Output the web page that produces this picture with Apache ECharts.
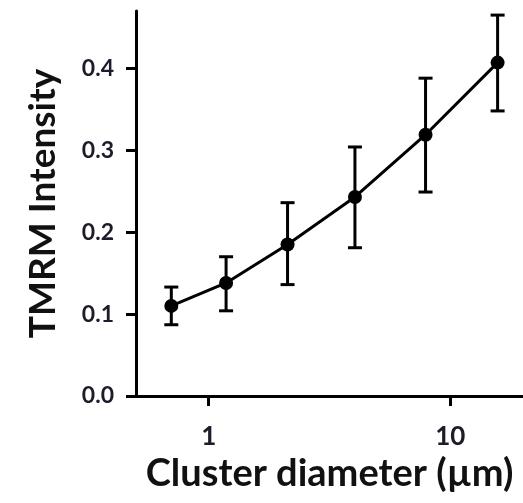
<!DOCTYPE html>
<html>
<head>
<meta charset="utf-8">
<script src="https://cdn.jsdelivr.net/npm/echarts@6/dist/echarts.min.js"></script>
<style>
html,body{margin:0;padding:0;background:#fff;}
#chart{width:523px;height:503px;}
</style>
</head>
<body>
<div id="chart"></div>
<script>
// Data
var diameters = [0.70, 1.18, 2.12, 4.03, 7.9, 15.7];
var intensity = [0.110, 0.138, 0.185, 0.243, 0.319, 0.407];
var errUpper  = [0.133, 0.170, 0.236, 0.304, 0.388, 0.465];
var errLower  = [0.087, 0.104, 0.136, 0.181, 0.249, 0.348];
var xTickValues = [1, 10];
var yTickValues = [0, 0.1, 0.2, 0.3, 0.4];

var chart = echarts.init(document.getElementById('chart'), null, {renderer: 'canvas'});

var lineData = diameters.map(function (d, i) { return [d, intensity[i]]; });
var errData = diameters.map(function (d, i) { return [d, errLower[i], errUpper[i]]; });

var labelColor = '#1c1c2a';

chart.setOption({
  animation: false,
  backgroundColor: '#fff',
  grid: {left: 136, right: 0, top: 11, bottom: 107},
  xAxis: {
    type: 'log',
    logBase: 10,
    min: 0.5,
    max: 20,
    name: 'Cluster diameter (\u00b5m)',
    nameLocation: 'middle',
    nameGap: 56,
    nameTextStyle: {fontFamily: 'Lato', fontWeight: 'bold', fontSize: 38, color: '#111'},
    axisLine: {show: true, lineStyle: {color: '#000', width: 3}},
    axisTick: {show: true, length: 10, lineStyle: {color: '#000', width: 3}, customValues: xTickValues},
    axisLabel: {show: true, margin: 28, fontFamily: 'Lato', fontWeight: 'bold', fontSize: 26, color: labelColor, customValues: xTickValues,
      formatter: function (v) { return String(v); }},
    splitLine: {show: false},
    minorTick: {show: false}
  },
  yAxis: {
    type: 'value',
    min: 0,
    max: 0.47,
    name: 'TMRM Intensity',
    nameLocation: 'middle',
    nameGap: 74,
    nameTextStyle: {fontFamily: 'Lato', fontWeight: 'bold', fontSize: 37, color: '#111'},
    axisLine: {show: true, lineStyle: {color: '#000', width: 3}},
    axisTick: {show: true, length: 10, lineStyle: {color: '#000', width: 3}, customValues: yTickValues},
    axisLabel: {show: true, margin: 22, fontFamily: 'Lato', fontWeight: 'bold', fontSize: 23, color: labelColor, customValues: yTickValues,
      formatter: function (v) { return v.toFixed(1); }},
    splitLine: {show: false}
  },
  series: [
    {
      type: 'custom',
      data: errData,
      z: 3,
      renderItem: function (params, api) {
        var x = api.value(0);
        var lo = api.coord([x, api.value(1)]);
        var hi = api.coord([x, api.value(2)]);
        var cap = 7;
        var style = {stroke: '#000', lineWidth: 3, fill: null};
        return {
          type: 'group',
          children: [
            {type: 'line', shape: {x1: hi[0], y1: hi[1], x2: lo[0], y2: lo[1]}, style: style},
            {type: 'line', shape: {x1: hi[0] - cap, y1: hi[1], x2: hi[0] + cap, y2: hi[1]}, style: style},
            {type: 'line', shape: {x1: lo[0] - cap, y1: lo[1], x2: lo[0] + cap, y2: lo[1]}, style: style}
          ]
        };
      }
    },
    {
      type: 'line',
      data: lineData,
      z: 4,
      symbol: 'circle',
      symbolSize: 14,
      itemStyle: {color: '#000'},
      lineStyle: {color: '#000', width: 3},
      silent: true
    }
  ]
});
</script>
</body>
</html>
